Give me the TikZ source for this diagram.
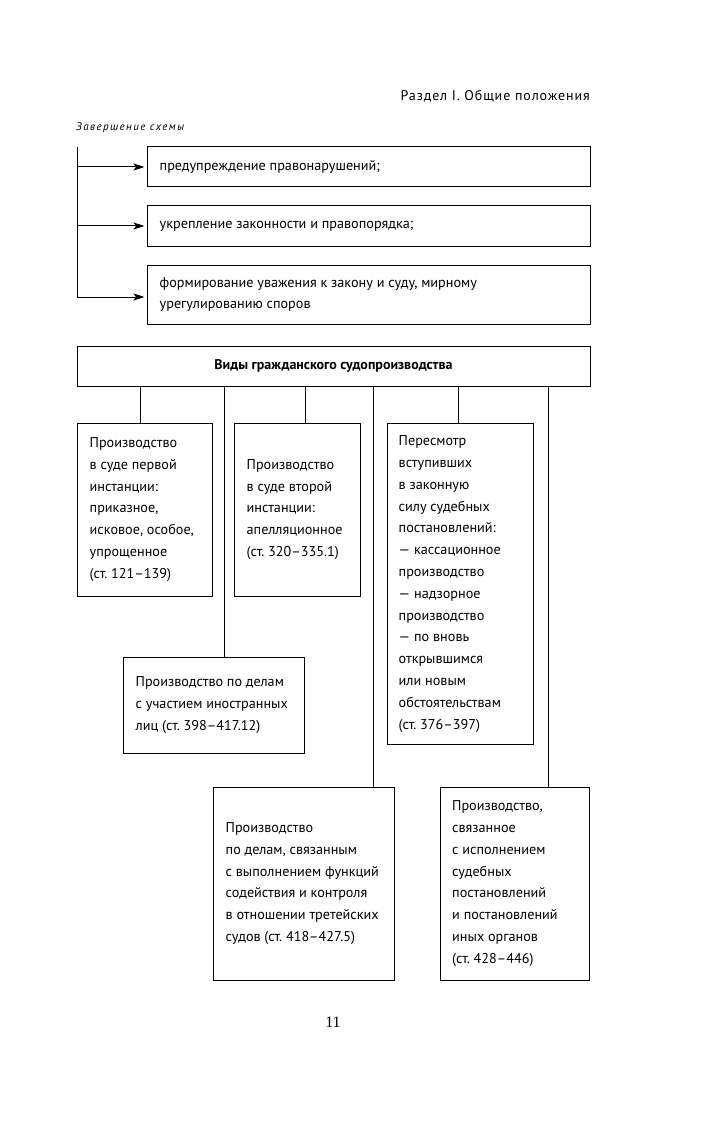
\documentclass[tikz,border=0pt]{standalone}
\usepackage{fontspec}
\setmainfont{PT Sans}
\newfontfamily\pagefont{Liberation Serif}
\usetikzlibrary{arrows.meta}
\frenchspacing
\begin{document}
\begin{tikzpicture}[x=1pt,y=-1pt,
  frame/.style={draw,line width=1pt,inner sep=0pt},
  txt/.style={anchor=west,inner sep=0pt,align=left,
    font=\fontsize{14.2}{21.8}\selectfont},
  wire/.style={line width=1pt},
  arr/.style={line width=1pt,-{Stealth[length=11pt,width=7pt,inset=2.5pt]},shorten >=2pt}]
\useasboundingbox (0,0) rectangle (709,1123);
% header
\node[anchor=east,inner sep=0pt,font=\fontsize{14}{16}\selectfont\addfontfeatures{LetterSpace=6.5}] (hdr) at (590,96) {Раздел I. Общие положения};
\node[anchor=west,inner sep=0pt,font=\fontsize{11}{13}\selectfont\itshape\addfontfeatures{LetterSpace=13}] (cap) at (76,128) {Завершение схемы};
% top list
\node[frame,minimum width=443,minimum height=40] (b1) at (368.5,167) {};
\node[txt] (t1) at ([xshift=13pt]b1.west) {предупреждение правонарушений;};
\node[frame,minimum width=443,minimum height=40] (b2) at (368.5,226) {};
\node[txt] (t2) at ([xshift=13pt]b2.west) {укрепление законности и правопорядка;};
\node[frame,minimum width=443,minimum height=59] (b3) at (368.5,294.5) {};
\node[txt] (t3) at ([xshift=13pt]b3.west) {формирование уважения к закону и суду, мирному\\урегулированию споров};
\coordinate (spine) at (77,147);
\draw[wire] (spine) -- (spine |- 0,297);
\draw[arr] (spine |- b1.west) -- (b1.west);
\draw[arr] (spine |- b2.west) -- (b2.west);
\draw[arr] (spine |- 0,297) -- (b3.west |- 0,297);
% main
\node[frame,minimum width=513,minimum height=40,font=\fontsize{14}{16}\selectfont\bfseries] (top) at (333.5,366) {Виды гражданского судопроизводства};
\node[frame,minimum width=135,minimum height=173] (ba) at (144.5,509.5) {};
\node[txt] (ta) at ([xshift=13pt]ba.west) {Производство\\в суде первой\\инстанции:\\приказное,\\исковое, особое,\\упрощенное\\(ст. 121–139)};
\node[frame,minimum width=126,minimum height=173] (bb) at (297,509.5) {};
\node[txt] (tb) at ([xshift=13pt]bb.west) {Производство\\в суде второй\\инстанции:\\апелляционное\\(ст. 320–335.1)};
\node[frame,minimum width=146,minimum height=321] (bc) at (460,584) {};
\node[txt] (tc) at ([xshift=12pt]bc.west) {Пересмотр\\вступивших\\в законную\\силу судебных\\постановлений:\\— кассационное\\производство\\— надзорное\\производство\\— по вновь\\открывшимся\\или новым\\обстоятельствам\\(ст. 376–397)};
\node[frame,minimum width=181,minimum height=96] (bd) at (213.5,705) {};
\node[txt] (td) at ([xshift=13pt]bd.west) {Производство по делам\\с участием иностранных\\лиц (ст. 398–417.12)};
\node[frame,minimum width=181,minimum height=193] (be) at (303.5,883.5) {};
\node[txt] (te) at ([xshift=13pt]be.west) {Производство\\по делам, связанным\\с выполнением функций\\содействия и контроля\\в отношении третейских\\судов (ст. 418–427.5)};
\node[frame,minimum width=149,minimum height=193] (bf) at (515,883.5) {};
\node[txt] (tf) at ([xshift=12pt]bf.west) {Производство,\\связанное\\с исполнением\\судебных\\постановлений\\и постановлений\\иных органов\\(ст. 428–446)};
\coordinate (xa) at (140,0);
\coordinate (xd) at (224,0);
\coordinate (xb) at (305,0);
\coordinate (xe) at (373,0);
\coordinate (xc) at (458,0);
\coordinate (xf) at (548,0);
\draw[wire] (xa |- top.south) -- (xa |- ba.north);
\draw[wire] (xd |- top.south) -- (xd |- bd.north);
\draw[wire] (xb |- top.south) -- (xb |- bb.north);
\draw[wire] (xe |- top.south) -- (xe |- be.north);
\draw[wire] (xc |- top.south) -- (xc |- bc.north);
\draw[wire] (xf |- top.south) -- (xf |- bf.north);
% page number
\node[font=\pagefont\fontsize{16}{18}\selectfont] (pg) at (333,1022) {11};
\end{tikzpicture}
\end{document}
